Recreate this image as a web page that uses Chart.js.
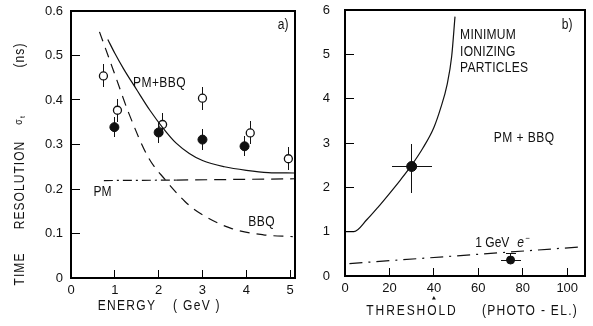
<!DOCTYPE html>
<html>
<head>
<meta charset="utf-8">
<script src="https://cdn.jsdelivr.net/npm/chart.js@4.4.1/dist/chart.umd.min.js"></script>
<style>
  html, body { margin: 0; padding: 0; background: #fff; }
  #wrap { position: relative; width: 593px; height: 326px; }
  #boxA { position: absolute; left: 0; top: 0; width: 300px; height: 326px; }
  #boxB { position: absolute; left: 300px; top: 0; width: 293px; height: 326px; }
  canvas { display: block; }
</style>
</head>
<body>
<div id="wrap">
  <div id="boxA"><canvas id="chartA" width="300" height="326"></canvas></div>
  <div id="boxB"><canvas id="chartB" width="293" height="326"></canvas></div>
</div>
<script>
'use strict';

var FONT = "'Liberation Sans', Arial, sans-serif";
var INK = '#111';
var SQUEEZE = 0.86;

// panel a) time resolution vs energy
var energyTicks = [0, 1, 2, 3, 4, 5];
var resTicks = [0, 0.1, 0.2, 0.3, 0.4, 0.5, 0.6];

var pmbbqE = [0.84, 1.0, 1.2, 1.5, 1.8, 2.1, 2.4, 2.7, 3.0, 3.5, 4.0, 4.5, 5.1];
var pmbbqS = [0.536, 0.505, 0.47, 0.423, 0.377, 0.337, 0.303, 0.280, 0.264, 0.250, 0.242, 0.237, 0.236];

var bbqE = [0.65, 0.87, 1.02, 1.32, 1.77, 2.14, 2.6, 2.89, 3.64, 4.39, 5.06];
var bbqS = [0.553, 0.493, 0.452, 0.37, 0.27, 0.222, 0.172, 0.149, 0.112, 0.097, 0.093];

var pmE = [0.75, 2.4, 5.1];
var pmS = [0.219, 0.220, 0.223];

var openE = [0.74, 1.06, 2.09, 3.0, 4.09, 4.96];
var openS = [0.454, 0.377, 0.345, 0.404, 0.326, 0.268];
var openErr = [0.026, 0.026, 0.025, 0.026, 0.026, 0.026];

var fullE = [0.99, 2.0, 3.0, 3.96];
var fullS = [0.339, 0.327, 0.311, 0.296];
var fullErr = [0.022, 0.024, 0.024, 0.022];

// panel b) time resolution vs threshold
var threshTicks = [0, 20, 40, 60, 80, 100];
var resBTicks = [0, 1, 2, 3, 4, 5, 6];

var minIonX = [0, 4, 10, 15, 20, 25, 30, 35, 40, 43, 46, 48, 49.5];
var minIonY = [1.0, 1.0, 1.28, 1.56, 1.86, 2.17, 2.5, 2.88, 3.35, 3.78, 4.33, 4.95, 5.85];

var eLineX = [2, 107];
var eLineY = [0.28, 0.66];

var measX = [30, 74.5];
var measY = [2.47, 0.36];
var measXErr = [9, 4.5];
var measYUp = [0.5, 0.15];
var measYDown = [0.6, 0];

function pts(xs, ys) {
  return xs.map(function (v, i) { return { x: v, y: ys[i] }; });
}

function setTicks(list) {
  return function (scale) {
    scale.ticks = list.map(function (v) { return { value: v }; });
  };
}

// pixel-aligned solid strokes
function hline(ctx, x1, x2, y, w) {
  ctx.fillRect(Math.round(Math.min(x1, x2)), Math.round(y - w / 2), Math.round(Math.abs(x2 - x1)), w);
}
function vline(ctx, x, y1, y2, w) {
  ctx.fillRect(Math.round(x - w / 2), Math.round(Math.min(y1, y2)), w, Math.round(Math.abs(y2 - y1)));
}

// narrow lettering, like the stencil text of the original
function text(ctx, str, px, py, size, align, spacing, style) {
  ctx.save();
  ctx.translate(px, py);
  ctx.scale(SQUEEZE, 1);
  ctx.font = (style ? style + ' ' : '') + size + 'px ' + FONT;
  ctx.textAlign = align || 'center';
  ctx.textBaseline = 'middle';
  ctx.letterSpacing = (spacing || 0) + 'px';
  ctx.fillText(str, 0, 0);
  ctx.restore();
}

function bars(xs, ys, ups, downs, xes, caps) {
  return xs.map(function (v, i) {
    return { x: v, y: ys[i], up: ups[i], down: downs[i], xe: xes ? xes[i] : 0, cap: caps ? caps[i] : false };
  });
}

// error bars under the markers; frame, inward ticks and labels on top
function panelPlugin(cfg) {
  return {
    id: 'panel_' + cfg.name,
    beforeDatasetsDraw: function (chart) {
      var ctx = chart.ctx;
      var sx = chart.scales.x, sy = chart.scales.y;
      ctx.save();
      ctx.fillStyle = INK;
      cfg.bars.forEach(function (b) {
        var px = sx.getPixelForValue(b.x), py = sy.getPixelForValue(b.y);
        vline(ctx, px, sy.getPixelForValue(b.y - b.down), sy.getPixelForValue(b.y + b.up), 1);
        if (b.xe) {
          hline(ctx, sx.getPixelForValue(b.x - b.xe), sx.getPixelForValue(b.x + b.xe), py, 1);
        }
        if (b.cap) {
          hline(ctx, px - 5, px + 5, sy.getPixelForValue(b.y + b.up), 1);
        }
      });
      ctx.restore();
    },
    afterDraw: function (chart) {
      var ctx = chart.ctx, a = chart.chartArea;
      var sx = chart.scales.x, sy = chart.scales.y;
      ctx.save();
      ctx.fillStyle = '#000';
      hline(ctx, a.left - 1, a.right + 1, a.top, 2);
      hline(ctx, a.left - 1, a.right + 1, a.bottom, 2);
      vline(ctx, a.left, a.top - 1, a.bottom + 1, 2);
      vline(ctx, a.right, a.top - 1, a.bottom + 1, 2);
      cfg.xIn.forEach(function (v) {
        vline(ctx, sx.getPixelForValue(v), a.bottom - 8, a.bottom, 1);
      });
      cfg.yIn.forEach(function (v) {
        hline(ctx, a.left, a.left + 9, sy.getPixelForValue(v), 1);
      });
      ctx.fillStyle = INK;
      cfg.draw(ctx, sx, sy, a);
      ctx.restore();
    }
  };
}

function baseOptions(xMax, yMax, xTicks, yTicks, yWidth, xHeight, pad, yPad, fmt) {
  return {
    responsive: false,
    animation: false,
    events: [],
    layout: { padding: pad },
    plugins: { legend: { display: false }, tooltip: { enabled: false } },
    scales: {
      x: {
        type: 'linear', position: 'bottom', min: 0, max: xMax,
        afterBuildTicks: setTicks(xTicks),
        afterFit: function (s) { s.height = xHeight; s.paddingLeft = 0; s.paddingRight = 0; },
        grid: { display: false, drawTicks: false },
        border: { display: false },
        ticks: { padding: 5, color: INK, font: { family: FONT, size: 13 }, maxRotation: 0 }
      },
      y: {
        type: 'linear', position: 'left', min: 0, max: yMax,
        afterBuildTicks: setTicks(yTicks),
        afterFit: function (s) { s.width = yWidth; s.paddingTop = 0; s.paddingBottom = 0; },
        grid: { display: false, drawTicks: false },
        border: { display: false },
        ticks: { padding: yPad, color: INK, font: { family: FONT, size: 13 }, callback: fmt }
      }
    }
  };
}

var optsA = baseOptions(5.1, 0.6, energyTicks, resTicks, 71, 48,
  { top: 11, right: 2, left: 0, bottom: 0 }, 8,
  function (v) { return v === 0 ? '0' : v.toFixed(1); });

var chartA = new Chart(document.getElementById('chartA'), {
  type: 'scatter',
  data: {
    datasets: [
      { data: pts(pmbbqE, pmbbqS), showLine: true, borderColor: INK, borderWidth: 1.2,
        pointRadius: 0, cubicInterpolationMode: 'monotone' },
      { data: pts(bbqE, bbqS), showLine: true, borderColor: INK, borderWidth: 1.2,
        borderDash: [10, 7], pointRadius: 0, cubicInterpolationMode: 'monotone' },
      { data: pts(pmE, pmS), showLine: true, borderColor: INK, borderWidth: 1.2, pointRadius: 0,
        segment: { borderDash: function (c) { return c.p0DataIndex === 0 ? [9, 4, 2, 4] : [12, 7]; } } },
      { data: pts(openE, openS), pointRadius: 4, pointBorderWidth: 1.3,
        pointBackgroundColor: '#fff', pointBorderColor: INK },
      { data: pts(fullE, fullS), pointRadius: 4.5, pointBorderWidth: 1,
        pointBackgroundColor: INK, pointBorderColor: INK }
    ]
  },
  options: optsA,
  plugins: [panelPlugin({
    name: 'a',
    xIn: [1, 2, 3, 4, 5],
    yIn: [0.1, 0.2, 0.3, 0.4, 0.5],
    bars: bars(openE, openS, openErr, openErr).concat(bars(fullE, fullS, fullErr, fullErr)),
    draw: function (ctx, sx, sy) {
      text(ctx, 'a)', sx.getPixelForValue(4.84), sy.getPixelForValue(0.569), 14);
      text(ctx, 'PM+BBQ', sx.getPixelForValue(2.02), sy.getPixelForValue(0.438), 14, 'center', 0.5);
      text(ctx, 'PM', sx.getPixelForValue(0.72), sy.getPixelForValue(0.193), 14);
      text(ctx, 'BBQ', sx.getPixelForValue(4.35), sy.getPixelForValue(0.126), 14, 'center', 0.5);
      text(ctx, 'ENERGY', 127, 306, 14, 'center', 1.5);
      text(ctx, '( GeV )', 197, 306, 14, 'center', 1.5);
      var parts = [['TIME', 269], ['RESOLUTION', 185], ['(ns)', 55]];
      parts.forEach(function (p) {
        ctx.save();
        ctx.translate(20, p[1]);
        ctx.rotate(-Math.PI / 2);
        text(ctx, p[0], 0, 0, 14, 'center', 1.2);
        ctx.restore();
      });
      ctx.save();
      ctx.translate(20, 120);
      ctx.rotate(-Math.PI / 2);
      text(ctx, '\u03c3', -2, -1, 10, 'center');
      text(ctx, 't', 3, 3, 8, 'center');
      ctx.restore();
    }
  })]
});

var optsB = baseOptions(108, 6, threshTicks, resBTicks, 45, 50,
  { top: 10, right: 8, left: 0, bottom: 0 }, 15,
  function (v) { return String(v); });

var chartB = new Chart(document.getElementById('chartB'), {
  type: 'scatter',
  data: {
    datasets: [
      { data: pts(minIonX, minIonY), showLine: true, borderColor: INK, borderWidth: 1.2,
        pointRadius: 0, cubicInterpolationMode: 'monotone' },
      { data: pts(eLineX, eLineY), showLine: true, borderColor: INK, borderWidth: 1.2,
        borderDash: [13, 6, 2, 6], pointRadius: 0 },
      { data: pts(measX, measY), pointRadius: [5, 4], pointBorderWidth: 1,
        pointBackgroundColor: INK, pointBorderColor: INK }
    ]
  },
  options: optsB,
  plugins: [panelPlugin({
    name: 'b',
    xIn: [20, 40, 60, 80, 100],
    yIn: [1, 2, 3, 4, 5],
    bars: bars(measX, measY, measYUp, measYDown, measXErr, [false, true]),
    draw: function (ctx, sx, sy, a) {
      text(ctx, 'b)', sx.getPixelForValue(100), sy.getPixelForValue(5.66), 14);
      var mx = sx.getPixelForValue(51.8);
      text(ctx, 'MINIMUM', mx, sy.getPixelForValue(5.44), 14, 'left', 0.3);
      text(ctx, 'IONIZING', mx, sy.getPixelForValue(5.05), 14, 'left', 0.3);
      text(ctx, 'PARTICLES', mx, sy.getPixelForValue(4.69), 14, 'left', 0.3);
      text(ctx, 'PM + BBQ', sx.getPixelForValue(80.6), sy.getPixelForValue(3.11), 14, 'center', 0.5);
      var gx = sx.getPixelForValue(58.6), gy = sy.getPixelForValue(0.74);
      text(ctx, '1 GeV', gx, gy, 14, 'left');
      text(ctx, 'e', gx + 42, gy, 14, 'left', 0, 'italic');
      text(ctx, '\u2212', gx + 50, gy - 5, 9, 'left');
      text(ctx, 'THRESHOLD', 112, 311, 14, 'center', 2.2);
      text(ctx, '(PHOTO - EL.)', 230, 311, 14, 'center', 1.5);
      var tx = sx.getPixelForValue(40), ty = a.bottom + 22;
      ctx.beginPath();
      ctx.moveTo(tx, ty - 2);
      ctx.lineTo(tx - 2, ty + 1.5);
      ctx.lineTo(tx + 2, ty + 1.5);
      ctx.closePath();
      ctx.fill();
    }
  })]
});
</script>
</body>
</html>
